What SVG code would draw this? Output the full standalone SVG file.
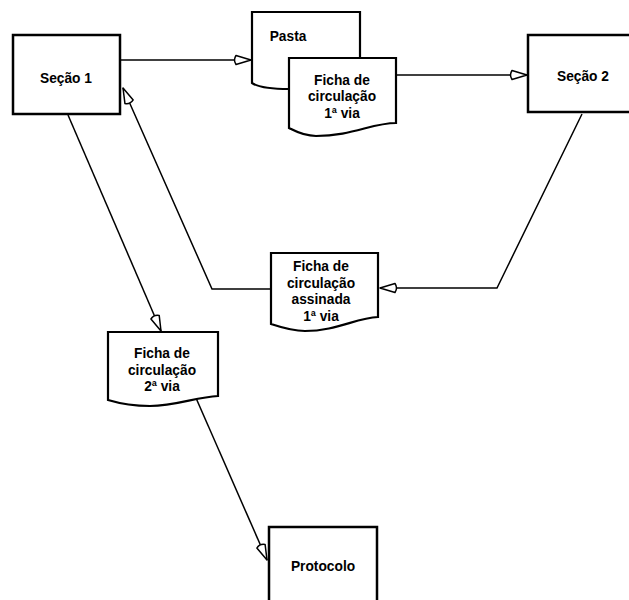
<svg xmlns="http://www.w3.org/2000/svg" width="629" height="600" viewBox="0 0 629 600">
<style>
.box{fill:#fff;stroke:#000;stroke-width:2.5}
.doc{fill:#fff;stroke:#000;stroke-width:2.2;stroke-linejoin:miter}
.ln{fill:none;stroke:#000;stroke-width:1.5}
text{font-family:"Liberation Sans",Arial,sans-serif;font-weight:bold;font-size:14.5px;text-anchor:middle;fill:#000}
</style>
<defs>
<marker id="ah" markerUnits="userSpaceOnUse" markerWidth="24" markerHeight="14" refX="0" refY="0" viewBox="-20 -7 24 14" orient="auto" overflow="visible">
<path d="M0,0 L-15,-4.5 Q-18,0 -15,4.5 Z" fill="#fff" stroke="#000" stroke-width="1.5" stroke-linejoin="round"/>
</marker>
</defs>
<rect width="629" height="600" fill="#fff"/>
<g id="connectors">
<path class="ln" d="M121,60 H251" marker-end="url(#ah)"/>
<path class="ln" d="M397,75 H527" marker-end="url(#ah)"/>
<path class="ln" d="M582,114 L497,288 H380" marker-end="url(#ah)"/>
<path class="ln" d="M271,289 H212 L123,88" marker-end="url(#ah)"/>
<path class="ln" d="M68,115 L161,331" marker-end="url(#ah)"/>
<path class="ln" d="M196,398 L267,560" marker-end="url(#ah)"/>
</g>
<g id="secao1">
<rect class="box" x="13" y="35" width="107" height="79"/>
<text transform="translate(66,82.5) scale(0.95,1)">Seção  1</text>
</g>
<g id="secao2">
<rect class="box" x="528" y="35" width="110" height="77"/>
<text transform="translate(583,80.5) scale(0.95,1)">Seção  2</text>
</g>
<g id="pasta">
<path class="doc" fill="none" d="M289,89 C272,89 258,87 252,83 V12 H360 V58"/>
<text transform="translate(288,40.5) scale(0.95,1)">Pasta</text>
</g>
<g id="ficha1">
<path class="doc" d="M289,58 H396 V123 C372,123 352,136 316,136 C303,136 295,131 289,128 Z"/>
<text transform="translate(342,84.5) scale(0.95,1)">Ficha de</text>
<text transform="translate(342,101) scale(0.95,1)">circulação</text>
<text transform="translate(342,117.5) scale(0.95,1)">1ª  via</text>
</g>
<g id="ficha-assinada">
<path class="doc" d="M271,253 H378 V317 C356,318 336,331 305,331 C291,331 280,327 271,324 Z"/>
<text transform="translate(321,271) scale(0.95,1)">Ficha de</text>
<text transform="translate(321,287.5) scale(0.95,1)">circulação</text>
<text transform="translate(321,304) scale(0.95,1)">assinada</text>
<text transform="translate(321,320.5) scale(0.95,1)">1ª  via</text>
</g>
<g id="ficha2">
<path class="doc" d="M108,332 H218 V396 C196,397 176,406 150,406 C130,406 118,403 108,400 Z"/>
<text transform="translate(162,358) scale(0.95,1)">Ficha de</text>
<text transform="translate(162,374.5) scale(0.95,1)">circulação</text>
<text transform="translate(162,391) scale(0.95,1)">2ª  via</text>
</g>
<g id="protocolo">
<rect class="box" x="269" y="527" width="108" height="80"/>
<text transform="translate(323,570.5) scale(0.95,1)">Protocolo</text>
</g>
</svg>
